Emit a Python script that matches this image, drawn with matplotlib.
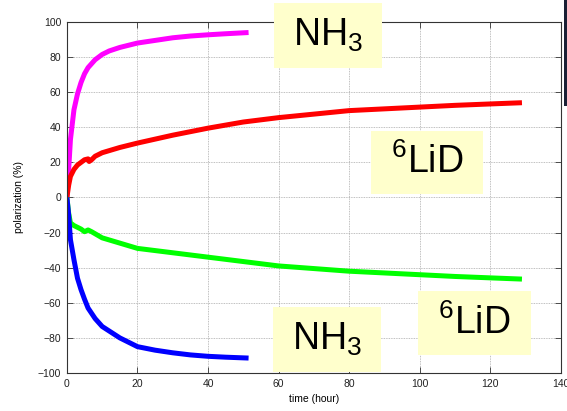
import matplotlib
matplotlib.use("Agg")
import matplotlib.pyplot as plt
from matplotlib.patches import Rectangle

plt.rcParams['font.family'] = ['Liberation Sans', 'DejaVu Sans']
plt.rcParams['mathtext.fontset'] = 'custom'
plt.rcParams['mathtext.rm'] = 'Liberation Sans'
plt.rcParams['mathtext.it'] = 'Liberation Sans'

# NH3 positive (magenta)
nh3_pos_t = [0, 0.5, 1, 2, 3, 4, 5, 6, 8, 10, 12, 15, 20, 25, 30, 35, 40, 45, 51.5]
nh3_pos_p = [0, 16, 33, 50, 59, 65.5, 70.5, 74, 78.5, 81.5, 83.5, 85.5, 88, 89.5, 91, 92, 92.7, 93.3, 94]
# 6LiD positive (red)
lid_pos_t = [0, 0.5, 1, 2, 3, 4, 5, 6, 6.3, 7, 8, 10, 15, 20, 30, 40, 50, 60, 70, 80, 90, 100, 110, 120, 129]
lid_pos_p = [0, 7, 12, 16, 18.5, 20, 21.5, 22, 20.5, 21.5, 23.5, 25.5, 28.5, 31, 35.5, 39.5, 43, 45.5, 47.5, 49.5, 50.5, 51.5, 52.5, 53.3, 54]
# 6LiD negative (green)
lid_neg_t = [0, 0.5, 1, 2, 3, 4, 5, 6, 7, 10, 15, 20, 30, 40, 50, 60, 70, 80, 90, 100, 110, 120, 129]
lid_neg_p = [0, -9, -14.5, -16, -17, -18, -19.5, -18.5, -19.5, -23, -26, -29, -31.5, -34, -36.5, -39, -40.5, -42, -43, -44, -45, -45.8, -46.5]
# NH3 negative (blue)
nh3_neg_t = [0, 0.5, 1, 2, 3, 4, 5, 6, 8, 10, 15, 20, 25, 30, 35, 40, 45, 51.5]
nh3_neg_p = [0, -10, -24, -35.5, -46, -52.5, -58, -63, -69, -73.5, -80, -85, -87, -88.5, -89.7, -90.5, -91, -91.5]

xticks = [0, 20, 40, 60, 80, 100, 120, 140]
yticks = [-100, -80, -60, -40, -20, 0, 20, 40, 60, 80, 100]

fig = plt.figure(figsize=(5.67, 4.11), dpi=100)
ax = fig.add_axes([0.118, 0.0925, 0.871, 0.854])

lw = 3.6
ax.plot(nh3_pos_t, nh3_pos_p, color='#ff00ff', lw=lw, solid_capstyle='butt')
ax.plot(lid_pos_t, lid_pos_p, color='#ff0000', lw=lw, solid_capstyle='butt')
ax.plot(lid_neg_t, lid_neg_p, color='#00ff00', lw=lw, solid_capstyle='butt')
ax.plot(nh3_neg_t, nh3_neg_p, color='#0000ff', lw=lw, solid_capstyle='butt')

ax.set_xlim(0, 140)
ax.set_ylim(-100, 100)
ax.set_xticks(xticks)
ax.set_yticks(yticks)
ax.tick_params(direction='in', top=True, right=True, labelsize=7.5, length=4, width=0.6,
               colors='#333333', labelcolor='#222222', pad=4)
ax.grid(True, color='#aaaaaa', linestyle=(0, (1, 1)), linewidth=0.6)
for s in ax.spines.values():
    s.set_linewidth(0.8)
    s.set_color('#333333')
ax.set_xlabel('time (hour)', fontsize=7.5, labelpad=4)
ax.set_ylabel('polarization (%)', fontsize=7.5, labelpad=10)

W, H = 567.0, 411.0
def box(x0, y0, x1, y1, text):
    r = Rectangle((x0 / W, 1 - y1 / H), (x1 - x0) / W, (y1 - y0) / H,
                  transform=fig.transFigure, facecolor='#ffffcc', edgecolor='none', zorder=10)
    fig.patches.append(r)
    fig.text((x0 + x1) / 2 / W, 1 - (y0 + y1) / 2 / H, text, ha='center', va='center',
             fontsize=27, color='black', zorder=11)

box(274, 3, 382, 68, r'NH$_3$')
box(371, 131, 483, 194, r'$^6$LiD')
box(273, 307, 381, 372, r'NH$_3$')
box(418, 291, 531, 355, r'$^6$LiD')

# dark fragment at right edge
fig.patches.append(Rectangle((564 / W, 1 - 106 / H), 3 / W, 106 / H, transform=fig.transFigure,
                             facecolor='#1a2035', edgecolor='none', zorder=10))

fig.savefig('out.png', dpi=100)
